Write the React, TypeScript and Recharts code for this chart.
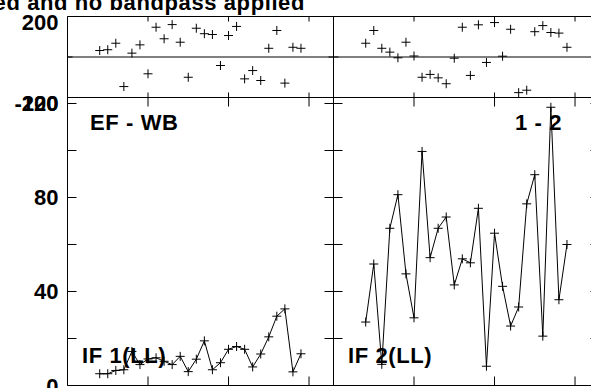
import React from "react";
import { LineChart, Line, XAxis, YAxis, ReferenceLine } from "recharts";

// sample times (same for both baselines), one every 0.1
const times = [0.4, 0.5, 0.6, 0.7, 0.8, 0.9, 1.0, 1.1, 1.2, 1.3, 1.4, 1.5, 1.6, 1.7, 1.8, 1.9, 2.0, 2.1, 2.2, 2.3, 2.4, 2.5, 2.6, 2.7, 2.8, 2.9];

// EF - WB, IF 1(LL)
const leftPhase = [32, 36, 68, -146, 19, 60, -83, 147, 90, 160, 73, -100, 142, 115, 111, -42, 106, 151, -108, -67, -116, 43, 131, -129, 48, 43];
const leftAmp = [5.0, 5.0, 6.4, 6.7, 14.5, 8.9, 11.3, 11.8, 10.3, 8.9, 12.4, 5.9, 11.2, 19.0, 6.7, 9.7, 15.4, 16.6, 15.4, 7.9, 13.4, 20.7, 29.5, 32.6, 5.8, 13.5];

// 1 - 2, IF 2(LL)
const rightPhase = [68, 131, 43, 24, -4, 73, 5, -100, -86, -103, -132, -6, 147, -91, 159, -27, 170, 4, 137, -176, -164, 125, 155, 121, 118, 48];
const rightAmp = [27.0, 51.7, 9.0, 66.9, 81.2, 47.5, 28.8, 99.6, 54.4, 66.9, 71.7, 42.8, 53.9, 52.2, 75.4, 8.2, 64.8, 42.2, 25.3, 33.4, 77.3, 89.7, 21.0, 118.4, 36.5, 60.0];

const xTicks = [1, 2, 3];
const ampTicks = [0, 20, 40, 60, 80, 100, 120];
const ampLabels = [0, 40, 80, 120];
const phaseTicks = [-200, 0, 200];
const phaseLabels = [-200, 200];

const leftRows = times.map((t, i) => ({ t, phase: leftPhase[i], amp: leftAmp[i] }));
const rightRows = times.map((t, i) => ({ t, phase: rightPhase[i], amp: rightAmp[i] }));

const W = 640;
const H = 400;
const AX = 30; // y axis width
const AH = 10; // x axis height
const FONT = "'Liberation Sans', Arial, Helvetica, sans-serif";

const makeTick = (side: string, len: number, labels?: number[], dy = 0) => (props: any) => {
  const { x, y, payload, index } = props;
  const v = payload.value;
  let x2 = x, y2 = y;
  if (side === "left") x2 = x + len;
  if (side === "right") x2 = x - len;
  if (side === "bottom") y2 = y - len;
  if (side === "top") y2 = y + len;
  const show = labels && labels.includes(v);
  return (
    <g key={`${side}-${index}`}>
      <line x1={x} y1={y} x2={x2} y2={y2} stroke="#000" strokeWidth={1} />
      {show && (
        <text x={x - 9} y={y + dy} textAnchor="end" fontFamily={FONT} fontWeight="bold" fontSize={22} fill="#000">
          {v}
        </text>
      )}
    </g>
  );
};

const cross = (props: any) => {
  const { cx, cy, index } = props;
  if (cx == null || cy == null) return <g key={`c${index}`} />;
  return <path key={`c${index}`} d={`M${cx - 4.5},${cy}h9M${cx},${cy - 4.5}v9`} stroke="#000" strokeWidth={1} fill="none" />;
};

type PanelProps = {
  rows: any[];
  dataKey: string;
  plot: { L: number; T: number; R: number; B: number };
  yDomain: number[];
  yTicks: number[];
  labels?: number[];
  labelDy: number;
  tickLen: number;
  joined: boolean;
  zero: boolean;
};

function Panel({ rows, dataKey, plot, yDomain, yTicks, labels, labelDy, tickLen, joined, zero }: PanelProps) {
  const margin = { left: plot.L - AX, right: W - plot.R - AX, top: plot.T - AH, bottom: H - plot.B - AH };
  return (
    <div style={{ position: "absolute", left: 0, top: 0 }}>
      <LineChart width={W} height={H} data={rows} margin={margin}>
        <XAxis xAxisId="b" orientation="bottom" type="number" dataKey="t" domain={[0, 3.304]} ticks={xTicks} interval={0}
          height={AH} tickSize={0} tickMargin={0} tickLine={false} axisLine={{ stroke: "#000" }} allowDataOverflow
          tick={makeTick("bottom", tickLen)} />
        <XAxis xAxisId="t" orientation="top" type="number" dataKey="t" domain={[0, 3.304]} ticks={xTicks} interval={0}
          height={AH} tickSize={0} tickMargin={0} tickLine={false} axisLine={{ stroke: "#000" }} allowDataOverflow
          tick={makeTick("top", tickLen)} />
        <YAxis yAxisId="l" orientation="left" type="number" domain={yDomain} ticks={yTicks} interval={0}
          width={AX} tickSize={0} tickMargin={0} tickLine={false} axisLine={{ stroke: "#000" }} allowDataOverflow
          tick={makeTick("left", tickLen, labels, labelDy)} />
        <YAxis yAxisId="r" orientation="right" type="number" domain={yDomain} ticks={yTicks} interval={0}
          width={AX} tickSize={0} tickMargin={0} tickLine={false} axisLine={{ stroke: "#000" }} allowDataOverflow
          tick={makeTick("right", tickLen)} />
        {zero && <ReferenceLine xAxisId="b" yAxisId="l" y={0} stroke="#000" strokeWidth={1} />}
        <Line xAxisId="b" yAxisId="l" dataKey={dataKey} type="linear" stroke={joined ? "#000" : "none"} strokeWidth={1}
          dot={cross} activeDot={false} isAnimationActive={false} />
      </LineChart>
    </div>
  );
}

const labelStyle = { fontFamily: FONT, fontWeight: "bold" as const, fontSize: 22, letterSpacing: 0.6, fill: "#000" };

export default function App() {
  const phaseY = [-200, 200];
  const ampY = [0, 122.55];
  return (
    <div style={{ position: "absolute", left: 0, top: 0, width: 591, height: 388, overflow: "hidden", background: "#fff", fontFamily: FONT }}>
      <Panel rows={leftRows} dataKey="phase" plot={{ L: 67.5, T: 16.5, R: 333.5, B: 97.5 }} yDomain={phaseY} yTicks={phaseTicks}
        labels={phaseLabels} labelDy={13} tickLen={5} joined={false} zero />
      <Panel rows={leftRows} dataKey="amp" plot={{ L: 67.5, T: 97.5, R: 333.5, B: 385.5 }} yDomain={ampY} yTicks={ampTicks}
        labels={ampLabels} labelDy={8} tickLen={9} joined zero={false} />
      <Panel rows={rightRows} dataKey="phase" plot={{ L: 333.5, T: 16.5, R: 599.5, B: 97.5 }} yDomain={phaseY} yTicks={phaseTicks}
        labelDy={0} tickLen={5} joined={false} zero />
      <Panel rows={rightRows} dataKey="amp" plot={{ L: 333.5, T: 97.5, R: 599.5, B: 385.5 }} yDomain={ampY} yTicks={ampTicks}
        labelDy={0} tickLen={9} joined zero={false} />
      <svg width={591} height={388} style={{ position: "absolute", left: 0, top: 0 }}>
        <text x={305} y={10} textAnchor="end" {...labelStyle}>Uncalibrated and no bandpass applied</text>
        <text x={90} y={130} {...labelStyle}>EF - WB</text>
        <text x={515} y={130} {...labelStyle}>1 - 2</text>
        <text x={82} y={363} {...labelStyle}>IF 1(LL)</text>
        <text x={348} y={363} {...labelStyle}>IF 2(LL)</text>
      </svg>
    </div>
  );
}
